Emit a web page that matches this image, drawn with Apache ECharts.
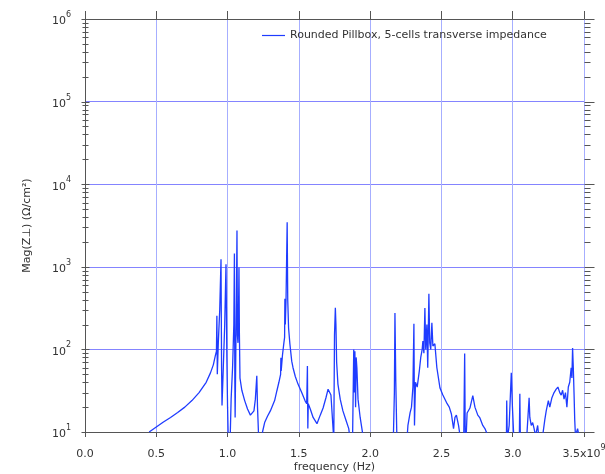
<!DOCTYPE html>
<html><head><meta charset="utf-8">
<script src="https://cdn.jsdelivr.net/npm/echarts@6/dist/echarts.min.js"></script>
<style>html,body{margin:0;padding:0;background:#fff}#c{width:605px;height:474px}</style>
</head><body><div id="c"></div>
<script>
const seriesName = 'Rounded Pillbox, 5-cells transverse impedance';
const freqGHz = [
0.45,0.50,0.55,0.60,0.65,0.70,0.75,0.80,0.85,0.88,0.90,0.915,0.922,0.925,0.928,0.935,0.945,0.954,0.958,0.961,
0.970,0.980,0.989,0.995,1.000,1.005,1.015,1.025,1.035,1.044,1.048,1.051,1.053,1.058,1.062,1.066,1.069,1.073,1.077,1.080,
1.083,1.087,1.10,1.12,1.14,1.16,1.17,1.185,1.195,1.205,1.21,1.22,1.235,1.245,1.26,1.28,1.30,1.33,1.346,1.36,
1.372,1.374,1.376,1.385,1.395,1.400,1.402,1.405,1.410,1.418,1.422,1.428,1.437,1.45,1.459,1.475,1.494,1.52,1.543,1.555,
1.560,1.563,1.566,1.58,1.60,1.627,1.65,1.67,1.69,1.705,1.715,1.725,1.735,1.745,1.750,1.756,1.760,1.765,1.774,1.79,
1.809,1.83,1.85,1.86,1.875,1.885,1.89,1.893,1.898,1.902,1.907,1.915,1.93,1.95,1.96,2.16,2.170,2.174,2.180,2.19,
2.25,2.265,2.28,2.29,2.300,2.307,2.311,2.318,2.33,2.345,2.355,2.365,2.370,2.377,2.384,2.39,2.398,2.404,2.412,2.418,
2.425,2.433,2.44,2.454,2.468,2.49,2.51,2.54,2.555,2.57,2.585,2.595,2.605,2.62,2.635,2.655,2.663,2.668,2.68,2.70,
2.72,2.735,2.755,2.77,2.79,2.805,2.826,2.84,2.955,2.958,2.962,2.975,2.990,2.998,3.01,3.03,3.045,3.05,3.055,3.09,
3.115,3.12,3.13,3.14,3.15,3.16,3.175,3.185,3.21,3.225,3.235,3.25,3.26,3.275,3.29,3.305,3.317,3.33,3.34,3.35,
3.36,3.37,3.38,3.39,3.40,3.41,3.415,3.42,3.425,3.43,3.435,3.44,3.455,3.47,3.49
];
const magnitude = [
10,11.5,13.2,15,17.2,20,24,30,40,52,65,85,95,255,50,120,300,1230,60,21,
60,200,1070,80,20,8,5,25,60,200,1450,40,15,100,400,2750,150,120,300,980,
150,45,32,24,19,16,15.5,18,25,48,20,7,5,10,13,15.5,18,24,31.6,40,
50,79,55,85,120,140,410,200,400,3470,400,180,117,72,60,47,38,30,24,22,
63,11,22,19,15,12.6,16,19.5,26,33,34,28,15,8,150,320,200,70,38,25,
18,14,11,8,5,100,30,95,20,80,60,25,15,9,5,5,30,275,40,5,
5,12,17,20,35,205,12,40,35,55,80,100,126,90,318,100,200,60,470,120,
100,210,110,117,60,34,28,22,20,16.5,11,15,16,12,8,5,89,5,17,19.5,
27.5,20,16,14.8,12,11,9,5,5,24,8,12,52,20,7,5,5,29,5,5,
26,15,12,13,11,9,12,8,9,14,18,24,20,26,30,33,35,30,28,32,
25,30,20,35,40,60,45,104,60,30,14,9,11,8,5
];
const xMin = 0, xMax = 3.5, xStep = 0.5;
const yMin = 10, yMax = 1e6;
const decades = [1e1,1e2,1e3,1e4,1e5,1e6];
const minorMultipliers = [2,3,4,5,6,7,8,9];

const FONT = 'DejaVu Sans';
const TXT = '#333';
const AXIS = '#555';

const tickData = [];
decades.forEach(d => {
  tickData.push([xMin, d, 1]);
  if (d < yMax) minorMultipliers.forEach(m => tickData.push([xMin, d * m, 0]));
});

const richLbl = {
  n: {fontFamily: FONT, fontSize: 11, color: TXT, lineHeight: 16, verticalAlign: 'bottom'},
  e: {fontFamily: FONT, fontSize: 8, color: TXT, lineHeight: 16, verticalAlign: 'top'}
};

const chart = echarts.init(document.getElementById('c'), null, {renderer: 'canvas'});
chart.setOption({
  animation: false,
  backgroundColor: '#fff',
  grid: {left: 85, right: 21, top: 19, bottom: 42, containLabel: false, outerBoundsMode: 'none'},
  legend: {
    data: [seriesName], left: 262, top: 30, padding: 0, icon: 'rect', itemWidth: 23, itemHeight: 1.2, itemGap: 5,
    textStyle: {fontFamily: FONT, fontSize: 11, color: TXT}
  },
  xAxis: [{
    type: 'value', min: xMin, max: xMax, interval: xStep,
    name: 'frequency (Hz)', nameLocation: 'middle', nameGap: 30, nameMoveOverlap: false,
    nameTextStyle: {fontFamily: FONT, fontSize: 11, color: TXT},
    axisLine: {lineStyle: {color: AXIS, width: 1}},
    axisTick: {length: 5, lineStyle: {color: AXIS}},
    axisLabel: {
      margin: 12,
      formatter: v => Math.abs(v - xMax) < 1e-9 ? '{n|' + v.toFixed(1) + 'x10}{e|9}' : '{n|' + v.toFixed(1) + '}',
      rich: richLbl
    },
    splitLine: {show: true, lineStyle: {color: '#a6aeff', width: 1}}
  }, {
    type: 'value', min: xMin, max: xMax, interval: xStep, position: 'top',
    axisLine: {lineStyle: {color: AXIS, width: 1}},
    axisTick: {length: 8, lineStyle: {color: AXIS}},
    axisLabel: {show: false}, splitLine: {show: false}
  }],
  yAxis: [{
    type: 'log', logBase: 10, min: yMin, max: yMax, interval: 1,
    name: 'Mag(Z\u22A5) (\u03A9/cm\u00B2)', nameLocation: 'middle', nameGap: 52, nameMoveOverlap: false,
    nameTextStyle: {fontFamily: FONT, fontSize: 11, color: TXT},
    axisLine: {show: true, lineStyle: {color: AXIS, width: 1}},
    axisTick: {show: false},
    axisLabel: {
      margin: 14,
      formatter: v => '{n|10}{e|' + Math.round(Math.log10(v)) + '}',
      rich: richLbl
    },
    splitLine: {show: true, lineStyle: {color: '#8484ff', width: 1}}
  }, {
    type: 'log', logBase: 10, min: yMin, max: yMax, position: 'right',
    axisLine: {show: true, lineStyle: {color: AXIS, width: 1}},
    axisTick: {show: false}, axisLabel: {show: false}, splitLine: {show: false}
  }],
  series: [{
    name: seriesName, type: 'line', xAxisIndex: 0, yAxisIndex: 0,
    data: freqGHz.map((f, i) => [f, magnitude[i]]),
    showSymbol: false, symbol: 'none', clip: true, z: 5,
    lineStyle: {color: '#1f3cff', width: 1.3},
    itemStyle: {color: '#1f3cff'}
  }, {
    type: 'custom', xAxisIndex: 0, yAxisIndex: 0, silent: true, z: 6,
    encode: {x: 0, y: 1},
    data: tickData,
    renderItem: function (params, api) {
      const v = api.value(1);
      const major = api.value(2) === 1;
      const pL = api.coord([xMin, v]);
      const pR = api.coord([xMax, v]);
      const yL = Math.round(pL[1]) + 0.5, yR = Math.round(pR[1]) + 0.5;
      const xl = Math.round(pL[0]) + 0.5, xr = Math.round(pR[0]) + 0.5;
      const st = {stroke: AXIS, lineWidth: 1};
      return {type: 'group', children: [
        {type: 'line', shape: {x1: xl - (major ? 4 : 3), y1: yL, x2: xl + (major ? 4 : 3), y2: yL}, style: st},
        {type: 'line', shape: {x1: xr, y1: yR, x2: xr + (major ? 10 : 6), y2: yR}, style: st}
      ]};
    }
  }]
});
</script></body></html>
